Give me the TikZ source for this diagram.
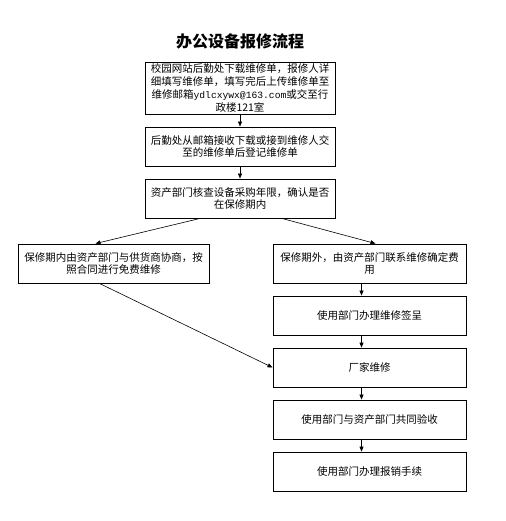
\documentclass[tikz,border=0pt]{standalone}
\usepackage{fontspec}
\usetikzlibrary{arrows.meta}
\newfontfamily\cjk{Noto Sans CJK SC}
\newfontfamily\cjkmono{Liberation Mono}[Scale=0.92]
\begin{document}
\begin{tikzpicture}[x=1pt,y=-1pt,
    box/.style={draw, line width=0.9pt, minimum width=190pt, minimum height=39pt,
      inner sep=0pt, align=center, font=\cjk\fontsize{10.5}{12.8}\selectfont},
    link/.style={-{Triangle[length=5pt,width=4pt]}, line width=0.6pt}]
    \useasboundingbox (0,0) rectangle (505,521);
    \node[font=\cjk\bfseries\fontsize{16}{18}\selectfont] (title) at (240,41) {办公设备报修流程};
    % main column
    \node[box, minimum height=52pt] (apply) at (240,88)
      {校园网站后勤处下载维修单，报修人详\\细填写维修单，填写完后上传维修单至\\维修邮箱{\cjkmono ydlcxywx@163.com}或交至行\\政楼121室};
    \node[box] (record) at (240,146.5) {后勤处从邮箱接收下载或接到维修人交\\至的维修单后登记维修单};
    \node[box] (check) at (240,198.5) {资产部门核查设备采购年限，确认是否\\在保修期内};
    % two branches
    \node[box, minimum width=191pt] (inwarranty) at (113.5,263.5) {保修期内由资产部门与供货商协商，按\\照合同进行免费维修};
    \node[box, minimum width=193pt] (outwarranty) at (369.5,263.5) {保修期外，由资产部门联系维修确定费\\用};
    \node[box, minimum width=193pt] (approve) at (369.5,315.5) {使用部门办理维修签呈};
    \node[box, minimum width=193pt] (repair) at (369.5,367.5) {厂家维修};
    \node[box, minimum width=193pt] (accept) at (369.5,419.5) {使用部门与资产部门共同验收};
    \node[box, minimum width=193pt] (refund) at (369.5,471.5) {使用部门办理报销手续};
    % connectors
    \draw[link] (apply) -- (record);
    \draw[link] (record) -- (check);
    \draw[link] ([xshift=-40pt]check.south) -- ([xshift=-18pt]inwarranty.north);
    \draw[link] ([xshift=42pt]check.south) -- ([xshift=6pt]outwarranty.north);
    \draw[link] ([xshift=-14pt]inwarranty.south) -- (repair.west);
    \draw[link] ([xshift=-8pt]outwarranty.south) -- ([xshift=-8pt]approve.north);
    \draw[link] ([xshift=-8pt]approve.south) -- ([xshift=-8pt]repair.north);
    \draw[link] ([xshift=-8pt]repair.south) -- ([xshift=-8pt]accept.north);
    \draw[link] ([xshift=-8pt]accept.south) -- ([xshift=-8pt]refund.north);
  \end{tikzpicture}
\end{document}
